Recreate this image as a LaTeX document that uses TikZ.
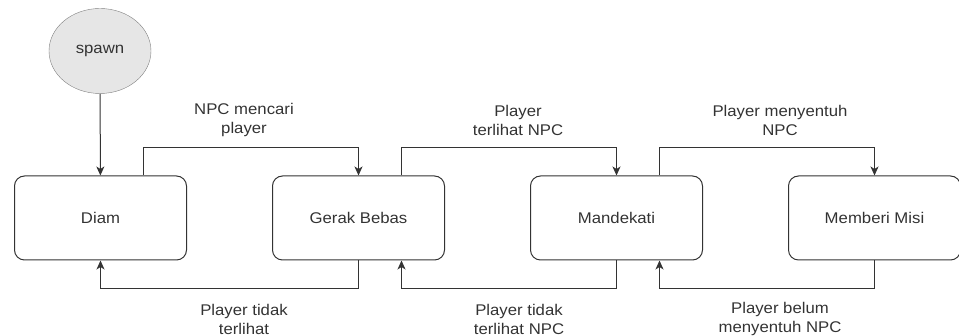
\documentclass[tikz,border=0pt]{standalone}
\usepackage{fontspec}
\setmainfont{Liberation Sans}[FakeStretch=1.08]
\usetikzlibrary{positioning,shapes.geometric,arrows.meta}
\definecolor{linegray}{HTML}{333333}
\definecolor{spawnfill}{HTML}{E6E6E6}
\begin{document}
\begin{tikzpicture}[x=1pt,y=1pt,
    font=\fontsize{15.5}{19}\selectfont, text=linegray,
    state/.style={draw=linegray,line width=1pt,rounded corners=10pt,
      minimum width=172pt,minimum height=84pt,inner sep=0pt},
    flow/.style={draw=linegray,line width=1pt,
      -{Stealth[length=9pt,width=8pt,inset=2.5pt]}},
    lbl/.style={align=center,inner sep=0pt}]
  \useasboundingbox (0,0) rectangle (959,336);
  % states
  \node[ellipse,draw=gray,fill=spawnfill,minimum width=102pt,
    minimum height=85pt] (spawn) at (100,285) {spawn};
  \node[state] (diam) at (100.5,118) {Diam};
  \node[state,right=85pt of diam] (gerak) {Gerak Bebas};
  \node[state,right=85pt of gerak] (dekat) {Mandekati};
  \node[state,right=85pt of dekat] (misi) {Memberi Misi};
  % transitions
  \draw[flow] (spawn) -- (diam);
  \draw[flow] ([xshift=43pt]diam.north) -- ++(0,28) -| (gerak.north);
  \draw[flow] ([xshift=43pt]gerak.north) -- ++(0,28) -| (dekat.north);
  \draw[flow] ([xshift=43pt]dekat.north) -- ++(0,28) -| (misi.north);
  \draw[flow] (gerak.south) -- ++(0,-28) -| (diam.south);
  \draw[flow] (dekat.south) -- ++(0,-28) -| ([xshift=43pt]gerak.south);
  \draw[flow] (misi.south) -- ++(0,-28) -| ([xshift=43pt]dekat.south);
  % labels
  \node[lbl] (cari) at (244,216) {NPC mencari\\player};
  \node[lbl] (lihat) at (518,216) {Player\\terlihat NPC};
  \node[lbl] (sentuh) at (780,216) {Player menyentuh\\NPC};
  \node[lbl] (hilang) at (244,17) {Player tidak\\terlihat};
  \node[lbl] (lepas) at (519,17) {Player tidak\\terlihat NPC};
  \node[lbl] (belum) at (780,17) {Player belum\\menyentuh NPC};
\end{tikzpicture}
\end{document}
